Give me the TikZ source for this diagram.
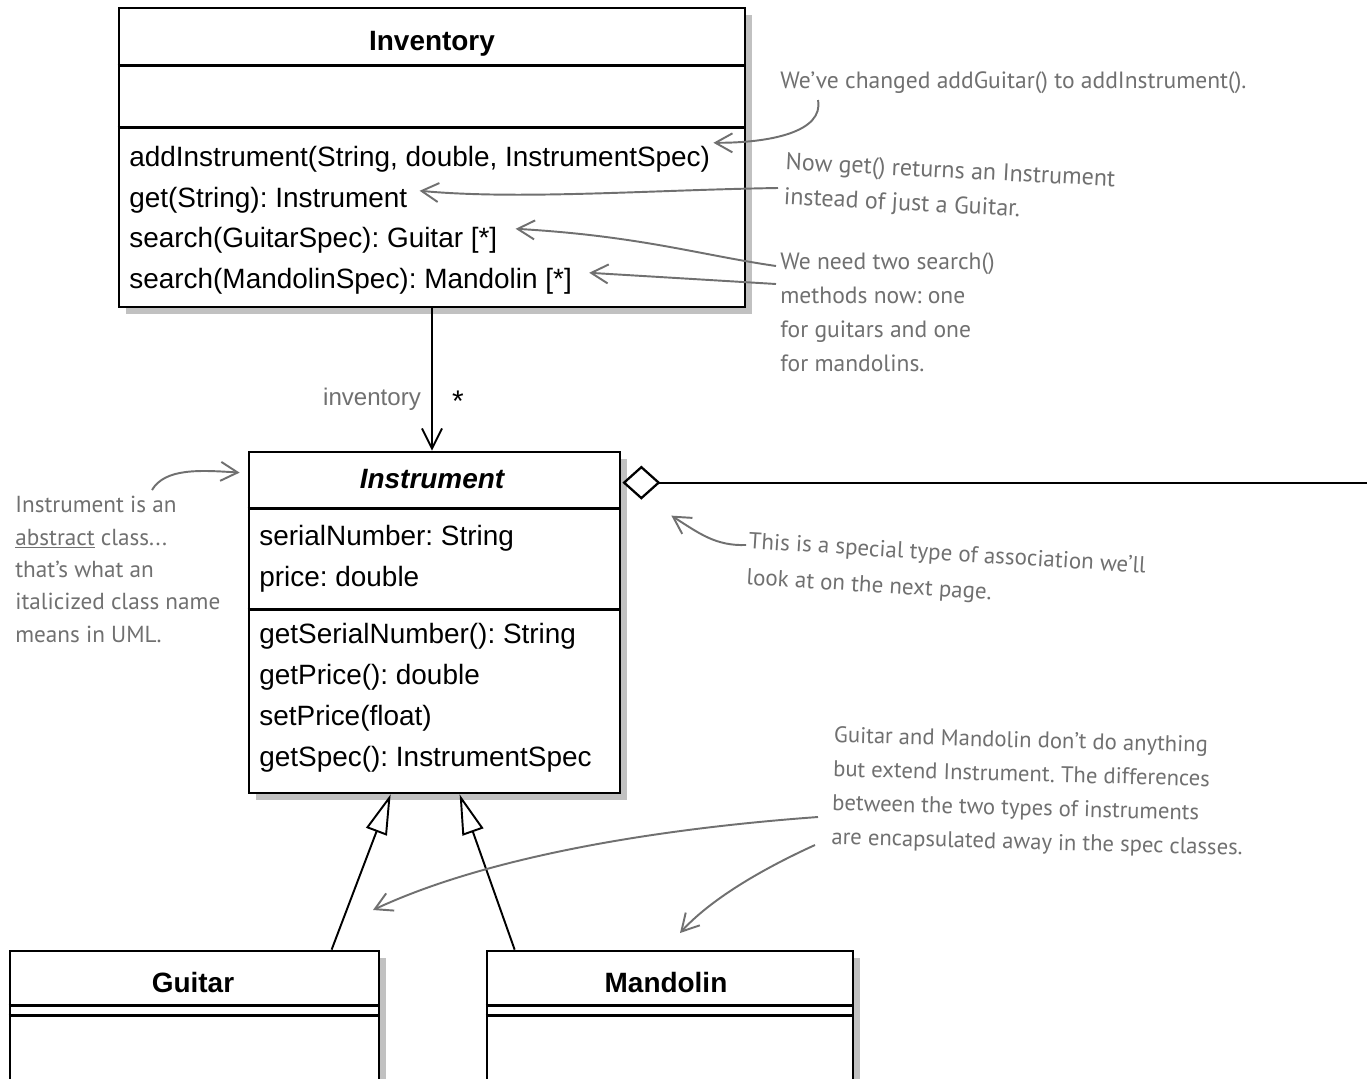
\documentclass[tikz,border=0pt]{standalone}
\usepackage{fontspec}
\setmainfont{Liberation Sans}
\newfontfamily\handfont{PT Sans}
\usetikzlibrary{arrows.meta,shadows,calc}
\definecolor{notegray}{RGB}{112,112,112}
\frenchspacing
\tikzset{
  classbox/.style={draw,line width=1.6pt,fill=white,inner sep=0pt,
    drop shadow={shadow xshift=4pt,shadow yshift=-4pt,fill=black!60,opacity=.4}},
  member/.style={anchor=base west,inner sep=0pt,font=\fontsize{15.9}{19}\selectfont},
  classname/.style={anchor=base,inner sep=0pt,font=\fontsize{15.9}{19}\selectfont\bfseries},
  note/.style={anchor=north west,align=left,inner sep=0pt,text=notegray,
    font=\handfont\fontsize{13.4}{19.5}\selectfont},
  notearrow/.style={draw=notegray,line width=1.1pt,-{Straight Barb[length=3.4mm,width=3.8mm]}},
  link/.style={line width=1.1pt}
}
\begin{document}
\begin{tikzpicture}[x=0.02cm,y=-0.02cm]
  \clip (0,0) rectangle (1367,1079);
  \fill[white] (0,0) rectangle (1367,1079);

  % classes
  \node[classbox,minimum width=12.52cm,minimum height=5.98cm] (inv) at (432,157.5) {};
  \node[classbox,minimum width=7.42cm,minimum height=6.82cm] (inst) at (434.5,622.5) {};
  \node[classbox,minimum width=7.38cm,minimum height=2.98cm] (guitar) at (194.5,1025.5) {};
  \node[classbox,minimum width=7.32cm,minimum height=2.98cm] (mandolin) at (670,1025.5) {};

  \draw[line width=1.6pt] ($(inv.north west)+(0,59)$) -- ($(inv.north east)+(0,59)$);
  \draw[line width=1.6pt] ($(inv.north west)+(0,121)$) -- ($(inv.north east)+(0,121)$);
  \draw[line width=1.6pt] ($(inst.north west)+(0,58)$) -- ($(inst.north east)+(0,58)$);
  \draw[line width=1.6pt] ($(inst.north west)+(0,159)$) -- ($(inst.north east)+(0,159)$);
  \foreach \c in {guitar,mandolin}{
    \draw[line width=1.6pt] ($(\c.north west)+(0,56)$) -- ($(\c.north east)+(0,56)$);
    \draw[line width=1.6pt] ($(\c.north west)+(0,66)$) -- ($(\c.north east)+(0,66)$);
  }

  \node[classname] (invname) at (432,50) {Inventory};
  \node[member] (m1) at (129,166) {addInstrument(String, double, InstrumentSpec)};
  \node[member] (m2) at (129,207) {get(String): Instrument};
  \node[member] (m3) at (129,247) {search(GuitarSpec): Guitar [*]};
  \node[member] (m4) at (129,288) {search(MandolinSpec): Mandolin [*]};

  \node[classname,font=\fontsize{15.9}{19}\selectfont\bfseries\itshape] (instname) at (432,488) {Instrument};
  \node[member] (a1) at (259,545) {serialNumber: String};
  \node[member] (a2) at (259,586) {price: double};
  \node[member] (o1) at (259,643) {getSerialNumber(): String};
  \node[member] (o2) at (259,684) {getPrice(): double};
  \node[member] (o3) at (259,725) {setPrice(float)};
  \node[member] (o4) at (259,766) {getSpec(): InstrumentSpec};

  \node[classname] (guitarname) at (193,992) {Guitar};
  \node[classname] (mandolinname) at (666,992) {Mandolin};

  % associations
  \draw[link,-{Straight Barb[length=4mm,width=4mm]}] (inv.south) -- (inv.south |- inst.north);
  \node[inner sep=0pt,text=notegray,font=\fontsize{13.7}{16}\selectfont] (rolename) at (372,399) {inventory};
  \node[inner sep=0pt,font=\fontsize{17}{19}\selectfont] (mult) at (458,401) {*};

  \coordinate (aggfrom) at ($(inst.north east)+(1,32)$);
  \coordinate (aggto) at ($(aggfrom)+(800,0)$);
  \draw[link,{Diamond[open,length=7.6mm,width=6.8mm,line width=1.3pt]}-] (aggfrom) -- (aggto);

  \coordinate (gup) at ($(inst.south west)+(143,0)$);
  \coordinate (mup) at ($(inst.south west)+(212,0)$);
  \draw[link,-{Triangle[open,length=8mm,width=4.4mm]}] ($(guitar.north west)+(323,0)$) -- (gup);
  \draw[link,-{Triangle[open,length=8mm,width=4.4mm]}] ($(mandolin.north west)+(29,0)$) -- (mup);

  % notes
  \node[note,anchor=base west] (n1) at (780,88) {We’ve changed addGuitar() to addInstrument().};
  \node[note,rotate=-3,font=\handfont\fontsize{13.7}{19.8}\selectfont] (n2) at (786,152) {Now get() returns an Instrument\\instead of just a Guitar.};
  \node[note] (n3) at (780,252) {We need two search()\\methods now: one\\for guitars and one\\for mandolins.};
  \node[note,font=\handfont\fontsize{13.2}{18.4}\selectfont] (n4) at (15,496) {Instrument is an\\\underline{abstract} class...\\that’s what an\\italicized class name\\means in UML.};
  \node[note,rotate=-3.5,font=\handfont\fontsize{13.1}{20.5}\selectfont] (n5) at (749,532) {This is a special type of association we’ll\\look at on the next page.};
  \node[note,rotate=-1.5,font=\handfont\fontsize{12.9}{19.3}\selectfont] (n6) at (834,726) {Guitar and Mandolin don’t do anything\\but extend Instrument. The differences\\between the two types of instruments\\are encapsulated away in the spec classes.};

  \coordinate (c1) at (818,100);
  \coordinate (c2) at (778,188);
  \coordinate (c3) at (776,266);
  \coordinate (c4) at (776,284);
  \coordinate (c5) at (152,490);
  \coordinate (c6) at (746,545);
  \coordinate (c7) at (818,817);
  \coordinate (c8) at (815,845);
  \coordinate (c9) at (373,910);
  \coordinate (c10) at (680,933);

  \draw[notearrow] (c1) .. controls (824,132) and (770,143) .. ($(m1.east)+(3,-16)$);
  \draw[notearrow] (c2) .. controls (650,190) and (520,200) .. ($(m2.east)+(12,-9)$);
  \draw[notearrow] (c3) .. controls (700,255) and (640,236) .. ($(m3.east)+(18,-11)$);
  \draw[notearrow] (c4) -- ($(m4.east)+(17,-8)$);
  \draw[notearrow] (c5) .. controls (165,468) and (200,470) .. ($(inst.north west)+(-8,22)$);
  \draw[notearrow] (c6) .. controls (716,546) and (700,534) .. ($(inst.north east)+(50,65)$);
  \draw[notearrow] (c7) .. controls (640,830) and (480,860) .. (c9);
  \draw[notearrow] (c8) .. controls (760,870) and (710,900) .. (c10);
\end{tikzpicture}
\end{document}
